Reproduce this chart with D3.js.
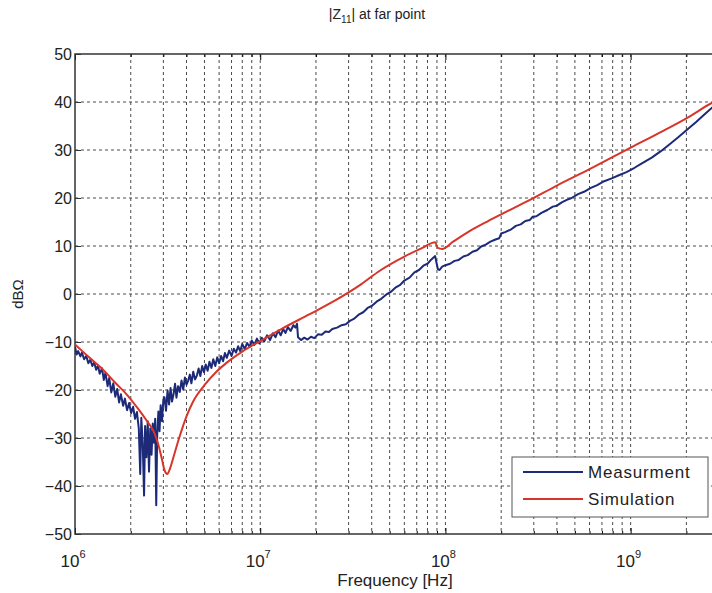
<!DOCTYPE html>
<html>
<head>
<meta charset="utf-8">
<script src="https://cdn.jsdelivr.net/npm/d3@7"></script>
<style>
    body { margin: 0; background: #fff; }
    text { font-family: "Liberation Sans", Arial, sans-serif; fill: #222; }
    .grid line { stroke: #4a4a4a; stroke-width: 1; stroke-dasharray: 3,3; }
</style>
</head>
<body>
<div id="chart"></div>
<script>
// measured |Z11| (frequency in MHz, value in dB ohm)
var measFreq = [
    1.00, 1.02, 1.04, 1.07, 1.09, 1.12, 1.15, 1.18, 1.21, 1.24,
    1.27, 1.30, 1.33, 1.36, 1.40, 1.43, 1.46, 1.50, 1.53, 1.57,
    1.61, 1.65, 1.69, 1.73, 1.77, 1.82, 1.86, 1.91, 1.96, 2.01,
    2.06, 2.11, 2.16, 2.21, 2.25, 2.28, 2.32, 2.36, 2.39, 2.43,
    2.47, 2.51, 2.55, 2.59, 2.63, 2.67, 2.71, 2.745, 2.78, 2.82,
    2.86, 2.90, 2.95, 3.00,
    3.04, 3.10, 3.16, 3.22, 3.28, 3.34, 3.40, 3.47, 3.53, 3.60,
    3.68, 3.76, 3.84, 3.92, 4.00, 4.08, 4.17, 4.25, 4.35, 4.45,
    4.55, 4.65, 4.75, 4.86, 4.97, 5.08, 5.20, 5.32, 5.45, 5.58,
    5.72, 5.86, 6.00, 6.15, 6.30, 6.45, 6.60, 6.80, 7.00, 7.20,
    7.40, 7.60, 7.80, 8.00, 8.25, 8.50, 8.75, 9.00, 9.30, 9.60,
    9.90, 10.2, 10.5, 10.9, 11.3, 11.7, 12.1, 12.5, 12.9, 13.3,
    13.7, 14.1, 14.6, 15.1, 15.5, 15.8, 16.0,
    16.6, 17.3, 18.0, 18.8, 19.6, 20.5, 21.5, 22.5, 23.5, 24.5,
    26.0, 27.5, 29.0, 30.5, 32.0, 34.0, 36.0, 38.0, 40.0, 42.5,
    45.0, 48.0, 51.0, 54.0, 57.0, 60.0, 64.0, 68.0, 72.0, 76.0,
    80.0, 84.0, 88.0, 89.5, 91.0, 93.0, 96.0, 100, 106, 112,
    118, 125, 132, 140, 148, 156, 165, 175, 185, 195,
    200, 210, 225, 240, 255, 270, 285, 296, 310, 330,
    355, 380, 400, 425, 452, 480, 520, 560, 610, 660,
    720, 790, 870, 950, 1050, 1150, 1300, 1450, 1600, 1800,
    2000, 2250, 2500, 2750, 3000];
var measDb = [
    -11.0, -12.6, -11.9, -13.0, -12.2, -13.6, -12.9, -14.4, -13.7, -15.0,
    -14.2, -15.8, -14.9, -16.6, -15.5, -17.9, -16.4, -19.2, -17.5, -20.5,
    -18.6, -21.4, -19.8, -22.6, -20.9, -23.3, -21.8, -24.2, -22.7, -24.8,
    -23.5, -26.0, -24.6, -28.0, -37.5, -25.8, -31.0, -42.0, -27.5, -34.0,
    -26.5, -37.0, -28.0, -33.5, -27.0, -31.0, -26.0, -44.0, -29.0, -24.5,
    -28.6, -23.2, -26.5, -22.0,
    -21.5, -24.3, -20.1, -23.0, -19.6, -22.4, -21.0, -18.7, -21.6, -19.2,
    -20.4, -18.0, -19.9, -17.4, -18.9, -18.1, -16.8, -18.6, -16.2, -17.8,
    -17.0, -15.5, -17.1, -15.0, -16.3, -14.7, -16.0, -14.1, -15.4, -13.6,
    -15.0, -13.2, -14.4, -12.9, -14.0, -12.3, -13.3, -11.8, -12.9, -11.4,
    -12.2, -10.9, -11.9, -10.4, -11.5, -10.2, -11.0, -9.7, -10.6, -9.3,
    -10.3, -9.1, -9.9, -8.6, -9.6, -8.2, -9.0, -7.6, -8.6, -7.3,
    -8.1, -6.9, -7.7, -6.5, -7.0, -6.2, -9.0,
    -9.6, -9.1, -9.5, -8.9, -9.2, -8.4, -8.5, -7.8, -7.9, -7.3,
    -7.0, -6.5, -6.3, -5.6, -5.2, -4.3, -3.8, -2.9, -2.5, -1.6,
    -1.0, -0.1, 0.5, 1.4, 1.9, 2.8, 3.4, 4.5, 5.0, 5.9,
    6.3, 7.2, 7.9, 6.5, 5.2, 5.0, 5.7, 6.0, 6.3, 6.9,
    7.1, 7.8, 8.1, 8.8, 9.1, 9.9, 10.3, 10.9, 11.3, 11.6,
    12.6, 12.9, 13.4, 14.2, 14.5, 15.2, 15.4, 16.1, 16.2, 16.9,
    17.5, 18.2, 18.4, 19.1, 19.6, 20.0, 20.8, 21.3, 22.1, 22.7,
    23.5, 24.1, 24.8, 25.4, 26.3, 27.2, 28.4, 29.7, 31.0, 32.6,
    34.1, 35.8, 37.4, 38.8, 40.0];

// simulated |Z11|
var simFreq = [1.00, 1.20, 1.42, 1.65, 1.91, 2.20, 2.45, 2.65, 2.80, 2.95, 3.05, 3.15, 3.25, 3.40, 3.65, 4.00,
    4.33, 5.00, 5.80, 6.60, 8.00, 10.0, 13.0, 18.5, 25.0, 35.0, 44.0, 60.0, 75.0, 88.0, 91.0, 96.0,
    110, 135, 170, 200, 286, 400, 600, 1000, 1500, 2000, 2740, 3000];
var simDb = [-10.5, -13.3, -15.8, -18.5, -21.0, -24.0, -26.5, -28.5, -31.0, -34.5, -36.8, -37.5, -36.5, -34.0, -30.0, -25.5,
    -22.5, -19.0, -16.2, -14.3, -12.0, -9.8, -7.3, -4.2, -1.5, 2.0, 4.8, 7.8, 9.6, 10.8, 9.6, 9.4,
    10.9, 13.1, 15.2, 16.6, 19.6, 22.6, 26.0, 30.5, 34.0, 36.6, 39.8, 40.6];

var yTicks = [-50, -40, -30, -20, -10, 0, 10, 20, 30, 40, 50];
var xDecades = [1e6, 1e7, 1e8, 1e9];
var xExponents = ["6", "7", "8", "9"];
var seriesNames = ["Measurment", "Simulation"];
var seriesColors = ["#1c2a78", "#d8352a"];

function init() {
    var w = 712;
    var h = 593;
    var margin = { top: 54, left: 75 };
    var width = 644;
    var height = 480;

    var measured = measFreq.map(function(f, i) { return { f: f * 1e6, v: measDb[i] }; });
    var simulated = simFreq.map(function(f, i) { return { f: f * 1e6, v: simDb[i] }; });

    var svg = d3.select("#chart").append("svg")
        .attr("width", w)
        .attr("height", h);

    svg.append("defs").append("clipPath").attr("id", "clip")
        .append("rect").attr("x", 0).attr("y", -2).attr("width", width).attr("height", height + 4);

    var g = svg.append("g")
        .attr("transform", "translate(" + margin.left + "," + margin.top + ")");

    var xScale = d3.scaleLog().domain([1e6, 3e9]).range([0, width]);
    var yScale = d3.scaleLinear().domain([-50, 50]).range([height, 0]);

    // grid
    var grid = g.append("g").attr("class", "grid");
    grid.selectAll("line.v")
        .data(xScale.ticks().filter(function(d) { return d > 1e6; }))
        .enter().append("line")
        .attr("x1", function(d) { return xScale(d); })
        .attr("x2", function(d) { return xScale(d); })
        .attr("y1", 0)
        .attr("y2", height);
    grid.selectAll("line.h")
        .data(yTicks.slice(1, -1))
        .enter().append("line")
        .attr("x1", 0)
        .attr("x2", width)
        .attr("y1", function(d) { return yScale(d); })
        .attr("y2", function(d) { return yScale(d); });

    // inner tick marks
    var minor = xScale.ticks().filter(function(d) { return xDecades.indexOf(d) < 0; });
    g.append("g")
        .attr("transform", "translate(0," + height + ")")
        .call(d3.axisBottom(xScale).tickValues(minor).tickSize(-3).tickFormat(""))
        .call(function(a) { a.select(".domain").remove(); });
    g.append("g")
        .attr("transform", "translate(0," + height + ")")
        .call(d3.axisBottom(xScale).tickValues(xDecades).tickSize(-6).tickFormat(""))
        .call(function(a) { a.select(".domain").remove(); });
    g.append("g")
        .call(d3.axisTop(xScale).tickValues(minor).tickSize(-3).tickFormat(""))
        .call(function(a) { a.select(".domain").remove(); });
    g.append("g")
        .call(d3.axisTop(xScale).tickValues(xDecades).tickSize(-6).tickFormat(""))
        .call(function(a) { a.select(".domain").remove(); });

    var yAxis = g.append("g")
        .call(d3.axisLeft(yScale).tickValues(yTicks).tickSize(-6).tickPadding(3));
    yAxis.select(".domain").remove();
    yAxis.selectAll("line").attr("stroke", "#333");
    yAxis.selectAll("text")
        .style("font-size", "16px")
        .style("font-family", "Liberation Sans, Arial, sans-serif")
        .attr("fill", "#222");

    // frame
    g.append("rect")
        .attr("x", 0).attr("y", 0)
        .attr("width", width).attr("height", height)
        .attr("fill", "none")
        .attr("stroke", "#333")
        .attr("stroke-width", 1.5);

    // x tick labels 10^n
    var xl = g.selectAll("text.xl")
        .data(xDecades)
        .enter().append("text")
        .attr("class", "xl")
        .attr("x", function(d) { return xScale(d) - 2; })
        .attr("y", height + 33)
        .attr("text-anchor", "middle")
        .style("font-size", "17px");
    xl.append("tspan").text("10");
    xl.append("tspan")
        .attr("dy", -9)
        .style("font-size", "11px")
        .text(function(d, i) { return xExponents[i]; });

    // curves
    var line = d3.line()
        .x(function(d) { return xScale(d.f); })
        .y(function(d) { return yScale(d.v); });

    var plot = g.append("g").attr("clip-path", "url(#clip)");
    plot.append("path")
        .datum(measured)
        .attr("fill", "none")
        .attr("stroke", seriesColors[0])
        .attr("stroke-width", 2)
        .attr("stroke-linejoin", "round")
        .attr("d", line);
    plot.append("path")
        .datum(simulated)
        .attr("fill", "none")
        .attr("stroke", seriesColors[1])
        .attr("stroke-width", 2)
        .attr("d", line.curve(d3.curveMonotoneX));

    // legend
    var legend = svg.append("g").attr("transform", "translate(512,457)");
    legend.append("rect")
        .attr("width", 196).attr("height", 60)
        .attr("fill", "#fff")
        .attr("stroke", "#555")
        .attr("stroke-width", 1);
    seriesNames.forEach(function(name, i) {
        var yy = 15 + i * 27;
        legend.append("line")
            .attr("x1", 11).attr("x2", 71)
            .attr("y1", yy).attr("y2", yy)
            .attr("stroke", seriesColors[i])
            .attr("stroke-width", 2);
        legend.append("text")
            .attr("x", 76).attr("y", yy + 6)
            .style("font-size", "17px")
            .style("letter-spacing", "0.8px")
            .text(name);
    });

    // titles
    var title = svg.append("text")
        .attr("x", 377).attr("y", 19)
        .attr("text-anchor", "middle")
        .style("font-size", "14px");
    title.append("tspan").text("|Z");
    title.append("tspan").attr("dy", 4).style("font-size", "10px").text("11");
    title.append("tspan").attr("dy", -4).text("| at far point");

    svg.append("text")
        .attr("x", 395).attr("y", 586)
        .attr("text-anchor", "middle")
        .style("font-size", "17px")
        .text("Frequency [Hz]");

    svg.append("text")
        .attr("transform", "translate(23,294) rotate(-90)")
        .attr("text-anchor", "middle")
        .style("font-size", "15px")
        .text("dBΩ");
}

window.onload = init;
</script>
</body>
</html>
